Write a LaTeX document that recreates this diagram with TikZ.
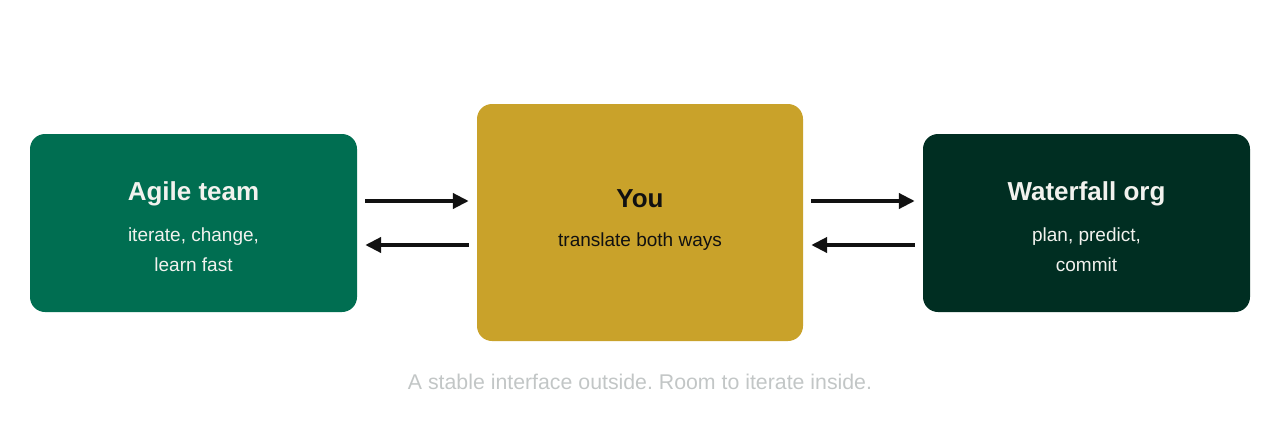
\documentclass[tikz,border=0pt]{standalone}
\usepackage{fontspec}
\setmainfont{Liberation Sans}
\usetikzlibrary{arrows.meta}
\definecolor{agile}{HTML}{006E51}
\definecolor{gold}{HTML}{C9A22A}
\definecolor{deep}{HTML}{002E22}
\definecolor{lighttxt}{HTML}{F2F2EE}
\definecolor{darktxt}{HTML}{111111}
\definecolor{captxt}{HTML}{C2C6C6}
\definecolor{arrowc}{HTML}{111111}
\tikzset{
  boxnode/.style={rounded corners=15pt, inner sep=0pt, draw=none},
  titletxt/.style={anchor=base, font=\bfseries\fontsize{26}{30}\selectfont, inner sep=0pt},
  subtxt/.style={anchor=base, font=\fontsize{19}{23}\selectfont, inner sep=0pt},
  conn/.style={draw=arrowc, line width=4pt, -{Triangle[length=16pt,width=15pt]}, shorten <=8pt, shorten >=8pt}
}
\begin{document}
\frenchspacing
\begin{tikzpicture}[x=1pt,y=-1pt]
\useasboundingbox (0,0) rectangle (1280,447);
\node[boxnode, fill=agile, minimum width=327pt, minimum height=178pt] (agile) at (193.5,223) {};
\node[boxnode, fill=gold, minimum width=326pt, minimum height=237pt] (you) at (640,222.5) {};
\node[boxnode, fill=deep, minimum width=327pt, minimum height=178pt] (water) at (1086.5,223) {};

\node[titletxt, text=lighttxt] (agileT) at (193.5,200.5) {Agile team};
\node[subtxt, text=lighttxt] (agileS1) at (193.5,241) {iterate, change,};
\node[subtxt, text=lighttxt] (agileS2) at (193.5,271) {learn fast};

\node[titletxt, text=darktxt] (youT) at (640,207) {You};
\node[subtxt, text=darktxt] (youS) at (640,246.5) {translate both ways};

\node[titletxt, text=lighttxt] (waterT) at (1086.5,200.5) {Waterfall org};
\node[subtxt, text=lighttxt] (waterS1) at (1086.5,241.5) {plan, predict,};
\node[subtxt, text=lighttxt] (waterS2) at (1086.5,271) {commit};

\node[anchor=base, inner sep=0pt, text=captxt, font=\fontsize{21.3}{25}\selectfont] (cap) at (640,389.5) {A stable interface outside. Room to iterate inside.};

\draw[conn] ([yshift=22pt]agile.east) -- ([yshift=21.5pt]you.west);
\draw[conn] ([yshift=-22.5pt]you.west) -- ([yshift=-22pt]agile.east);
\draw[conn] ([yshift=21.5pt]you.east) -- ([yshift=22pt]water.west);
\draw[conn] ([yshift=-22pt]water.west) -- ([yshift=-22.5pt]you.east);
\end{tikzpicture}
\end{document}
